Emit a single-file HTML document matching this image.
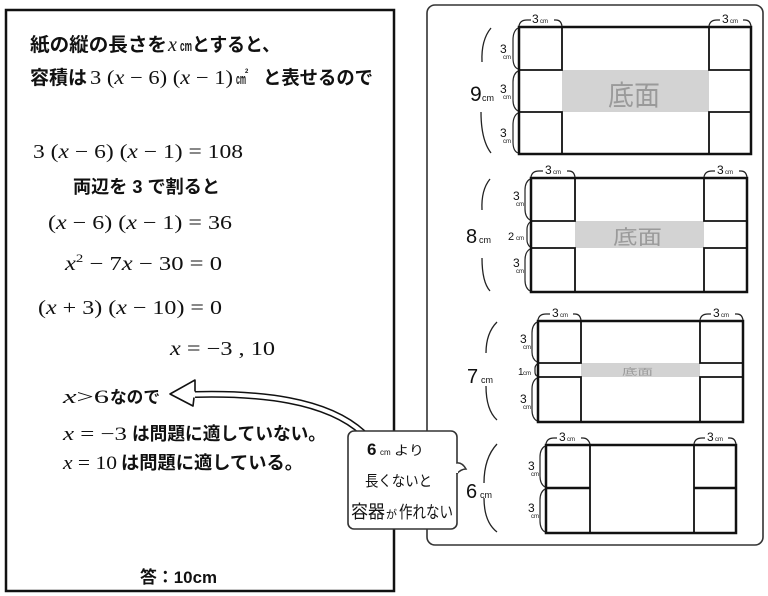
<!DOCTYPE html>
<html><head><meta charset="utf-8">
<style>
html,body{margin:0;padding:0;background:#fff;}
svg{display:block;}
.g{font-family:"Liberation Sans","Noto Sans CJK JP",sans-serif;font-weight:700;fill:#111;}
.m{font-family:"Liberation Serif",serif;fill:#111;}
.h{font-family:"Liberation Sans","Noto Sans CJK JP",sans-serif;fill:#111;}
</style></head>
<body>
<svg width="768" height="596" viewBox="0 0 768 596" xmlns="http://www.w3.org/2000/svg">
<rect x="0" y="0" width="768" height="596" fill="#fff"/>

<!-- LEFT BOX -->
<rect x="6" y="10" width="388" height="581" fill="#fff" stroke="#111" stroke-width="2.5"/>

<text class="g" x="30" y="51" font-size="19" textLength="137" lengthAdjust="spacingAndGlyphs">紙の縦の長さを</text>
<text class="m" x="168" y="51" font-size="20" font-style="italic">x</text>
<text class="g" x="180" y="51" font-size="15" textLength="12" lengthAdjust="spacingAndGlyphs">cm</text>
<text class="g" x="192" y="51" font-size="19" textLength="88" lengthAdjust="spacingAndGlyphs">とすると、</text>

<text class="g" x="30" y="84" font-size="19" textLength="57" lengthAdjust="spacingAndGlyphs">容積は</text>
<text class="m" x="90" y="84" font-size="20" textLength="143" lengthAdjust="spacingAndGlyphs">3 (<tspan font-style="italic">x</tspan> − 6) (<tspan font-style="italic">x</tspan> − 1)</text>
<text class="g" x="236" y="84" font-size="15" textLength="10" lengthAdjust="spacingAndGlyphs">cm</text>
<text class="g" x="245" y="73" font-size="6">2</text>
<text class="g" x="263" y="84" font-size="19" textLength="110" lengthAdjust="spacingAndGlyphs">と表せるので</text>

<text class="m" x="33" y="158" font-size="20" textLength="210" lengthAdjust="spacingAndGlyphs">3 (<tspan font-style="italic">x</tspan> − 6) (<tspan font-style="italic">x</tspan> − 1) = 108</text>
<text class="g" x="73" y="193" font-size="18" textLength="147" lengthAdjust="spacingAndGlyphs">両辺を 3 で割ると</text>
<text class="m" x="48" y="229" font-size="20" textLength="184" lengthAdjust="spacingAndGlyphs">(<tspan font-style="italic">x</tspan> − 6) (<tspan font-style="italic">x</tspan> − 1) = 36</text>
<text class="m" x="65" y="270" font-size="20" textLength="157" lengthAdjust="spacingAndGlyphs"><tspan font-style="italic">x</tspan><tspan font-size="12" dy="-8">2</tspan><tspan dy="8"> − 7</tspan><tspan font-style="italic">x</tspan> − 30 = 0</text>
<text class="m" x="38" y="314" font-size="20" textLength="184" lengthAdjust="spacingAndGlyphs">(<tspan font-style="italic">x</tspan> + 3) (<tspan font-style="italic">x</tspan> − 10) = 0</text>
<text class="m" x="170" y="355" font-size="20" textLength="105" lengthAdjust="spacingAndGlyphs"><tspan font-style="italic">x</tspan> = −3 , 10</text>

<text class="m" x="63" y="403" font-size="19" textLength="46" lengthAdjust="spacingAndGlyphs"><tspan font-style="italic">x</tspan>&gt;6</text>
<text class="g" x="110" y="403" font-size="17" font-weight="400" textLength="50" lengthAdjust="spacingAndGlyphs">なので</text>
<text class="m" x="63" y="440" font-size="19" textLength="64" lengthAdjust="spacingAndGlyphs"><tspan font-style="italic">x</tspan> = −3</text>
<text class="g" x="132" y="440" font-size="18" textLength="194" lengthAdjust="spacingAndGlyphs">は問題に適していない。</text>
<text class="m" x="63" y="469" font-size="19" textLength="54" lengthAdjust="spacingAndGlyphs"><tspan font-style="italic">x</tspan> = 10</text>
<text class="g" x="121" y="469" font-size="18" textLength="182" lengthAdjust="spacingAndGlyphs">は問題に適している。</text>

<text class="g" x="140" y="583" font-size="17" textLength="77" lengthAdjust="spacingAndGlyphs">答：10cm</text>

<!-- RIGHT PANEL -->
<rect x="427" y="5" width="336" height="540" rx="8" fill="#fff" stroke="#333" stroke-width="1.6"/>

<g fill="none" stroke="#111">
  <rect x="519" y="27" width="232" height="127" stroke-width="2.5"/>
  <rect x="562" y="70" width="147" height="42" fill="#d3d3d3" stroke="none"/>
  <path d="M562,27 V70 H519 M562,154 V112 H519 M709,27 V70 H751 M709,154 V112 H751" stroke-width="1.8"/>
  <rect x="531" y="178" width="216" height="114" stroke-width="2.5"/>
  <rect x="575" y="221" width="129" height="27" fill="#d3d3d3" stroke="none"/>
  <path d="M575,178 V221 H531 M575,292 V248 H531 M704,178 V221 H747 M704,292 V248 H747" stroke-width="1.8"/>
  <rect x="538" y="321" width="205" height="101" stroke-width="2.5"/>
  <rect x="581" y="363" width="119" height="14" fill="#d3d3d3" stroke="none"/>
  <path d="M581,321 V363 H538 M581,422 V377 H538 M700,321 V363 H743 M700,422 V377 H743" stroke-width="1.8"/>
  <rect x="546" y="445" width="190" height="88" stroke-width="2.5"/>
  <path d="M590,445 V533 M694,445 V533" stroke-width="1.8"/>
  <path d="M546,488 H590 M694,488 H736" stroke-width="2.6"/>
</g>

<text x="608" y="105" font-family="'Noto Sans CJK JP',sans-serif" font-size="28" fill="#9a9a9a" textLength="52" lengthAdjust="spacingAndGlyphs">底面</text>
<text x="613" y="244" font-family="'Noto Sans CJK JP',sans-serif" font-size="20" fill="#9a9a9a" textLength="49" lengthAdjust="spacingAndGlyphs">底面</text>
<text x="622" y="375" font-family="'Noto Sans CJK JP',sans-serif" font-size="9" fill="#9a9a9a" textLength="31" lengthAdjust="spacingAndGlyphs">底面</text>

<g fill="none" stroke="#222" stroke-width="1.2">
  <path d="M519,26 Q520,20 527,20 L531,20 M554,20 L556,20 Q561,20 562,26"/>
  <path d="M709,26 Q710,20 717,20 L720,20 M743,20 L745,20 Q750,20 751,26"/>
  <path d="M531,177 Q532,171 539,171 L543,171 M567,171 L569,171 Q574,171 575,177"/>
  <path d="M704,177 Q705,171 712,171 L715,171 M739,171 L741,171 Q746,171 747,177"/>
  <path d="M538,320 Q539,314 546,314 L550,314 M573,314 L575,314 Q580,314 581,320"/>
  <path d="M700,320 Q701,314 708,314 L711,314 M735,314 L737,314 Q742,314 743,320"/>
  <path d="M546,444 Q547,438 554,438 L557,438 M581,438 L583,438 Q588,438 590,444"/>
  <path d="M694,444 Q695,438 702,438 L705,438 M728,438 L730,438 Q735,438 736,444"/>
</g>
<g class="h">
  <text x="532" y="23" font-size="12">3</text><text x="540" y="23" font-size="6">cm</text>
  <text x="722" y="23" font-size="12">3</text><text x="730" y="23" font-size="6">cm</text>
  <text x="545" y="174" font-size="12">3</text><text x="553" y="174" font-size="6">cm</text>
  <text x="717" y="174" font-size="12">3</text><text x="725" y="174" font-size="6">cm</text>
  <text x="552" y="317" font-size="12">3</text><text x="560" y="317" font-size="6">cm</text>
  <text x="713" y="317" font-size="12">3</text><text x="721" y="317" font-size="6">cm</text>
  <text x="559" y="441" font-size="12">3</text><text x="567" y="441" font-size="6">cm</text>
  <text x="707" y="441" font-size="12">3</text><text x="715" y="441" font-size="6">cm</text>
</g>

<g fill="none" stroke="#222" stroke-width="1.2">
  <path d="M518,28 Q513,31 513,40 V58 Q513,67 518,69"/>
  <path d="M518,71 Q513,74 513,82 V100 Q513,108 518,111"/>
  <path d="M518,113 Q513,116 513,125 V142 Q513,151 518,153"/>
  <path d="M530,179 Q525,182 525,190 V209 Q525,217 530,220"/>
  <path d="M530,222 Q527,225 527,229 V240 Q527,244 530,247"/>
  <path d="M530,249 Q525,252 525,260 V280 Q525,288 530,291"/>
  <path d="M537,322 Q532,325 532,333 V352 Q532,359 537,362"/>
  <path d="M537,364 Q535,366 535,368 V372 Q535,375 537,376"/>
  <path d="M537,378 Q532,381 532,389 V410 Q532,418 537,421"/>
  <path d="M545,446 Q540,449 540,457 V476 Q540,484 545,487"/>
  <path d="M545,489 Q540,492 540,500 V521 Q540,529 545,532"/>
</g>
<g class="h">
  <text x="500" y="53" font-size="12">3</text><text x="503" y="59" font-size="6">cm</text>
  <text x="500" y="93" font-size="12">3</text><text x="503" y="99" font-size="6">cm</text>
  <text x="500" y="137" font-size="12">3</text><text x="503" y="143" font-size="6">cm</text>
  <text x="513" y="200" font-size="12">3</text><text x="516" y="206" font-size="6">cm</text>
  <text x="508" y="240" font-size="11">2</text><text x="516" y="240" font-size="6">cm</text>
  <text x="513" y="267" font-size="12">3</text><text x="516" y="273" font-size="6">cm</text>
  <text x="520" y="343" font-size="12">3</text><text x="523" y="349" font-size="6">cm</text>
  <text x="518" y="375" font-size="10">1</text><text x="523" y="375" font-size="6">cm</text>
  <text x="520" y="403" font-size="12">3</text><text x="523" y="409" font-size="6">cm</text>
  <text x="528" y="470" font-size="12">3</text><text x="531" y="476" font-size="6">cm</text>
  <text x="528" y="512" font-size="12">3</text><text x="531" y="518" font-size="6">cm</text>
</g>

<g fill="none" stroke="#222" stroke-width="1.3">
  <path d="M491,28 Q481,40 482,62"/><path d="M481,112 Q481,140 491,153"/>
  <path d="M490,179 Q481,190 482,210"/><path d="M482,258 Q482,282 490,291"/>
  <path d="M497,322 Q486,333 486,353"/><path d="M486,386 Q486,410 497,420"/>
  <path d="M497,444 Q484,458 484,483"/><path d="M484,498 Q484,522 497,532"/>
</g>
<g class="h">
  <text x="470" y="101" font-size="21">9</text><text x="482" y="101" font-size="9">cm</text>
  <text x="466" y="243" font-size="20">8</text><text x="479" y="243" font-size="9">cm</text>
  <text x="467" y="383" font-size="20">7</text><text x="481" y="383" font-size="9">cm</text>
  <text x="466" y="498" font-size="20">6</text><text x="480" y="498" font-size="9">cm</text>
</g>

<path d="M195,394.5 C258,393 326,399 363,433" fill="none" stroke="#111" stroke-width="7"/>
<path d="M195,394.5 C258,393 326,399 363,433" fill="none" stroke="#fff" stroke-width="4"/>
<path d="M195,391.5 L195,380 L170,394 L193,406 L194,397.5" fill="#fff" stroke="#111" stroke-width="1.6" stroke-linejoin="round"/>

<rect x="348" y="431" width="109" height="98" rx="6" fill="#fff" stroke="#333" stroke-width="1.6"/>
<path d="M456.5,463 Q462,462 466,469 Q461,469 456.5,474" fill="#fff" stroke="#333" stroke-width="1.5"/>
<rect x="455" y="464" width="3" height="9" fill="#fff"/>
<g class="h">
  <text x="367" y="455" font-size="17" font-weight="700">6</text>
  <text x="380" y="455" font-size="8">cm</text>
  <text x="394" y="455" font-size="13" textLength="30" lengthAdjust="spacingAndGlyphs">より</text>
  <text x="365" y="486" font-size="15" textLength="67" lengthAdjust="spacingAndGlyphs">長くないと</text>
  <text x="351" y="518" font-size="18" textLength="34" lengthAdjust="spacingAndGlyphs">容器</text>
  <text x="386" y="518" font-size="11">が</text>
  <text x="399" y="518" font-size="17" textLength="54" lengthAdjust="spacingAndGlyphs">作れない</text>
</g>
</svg>
</body></html>
